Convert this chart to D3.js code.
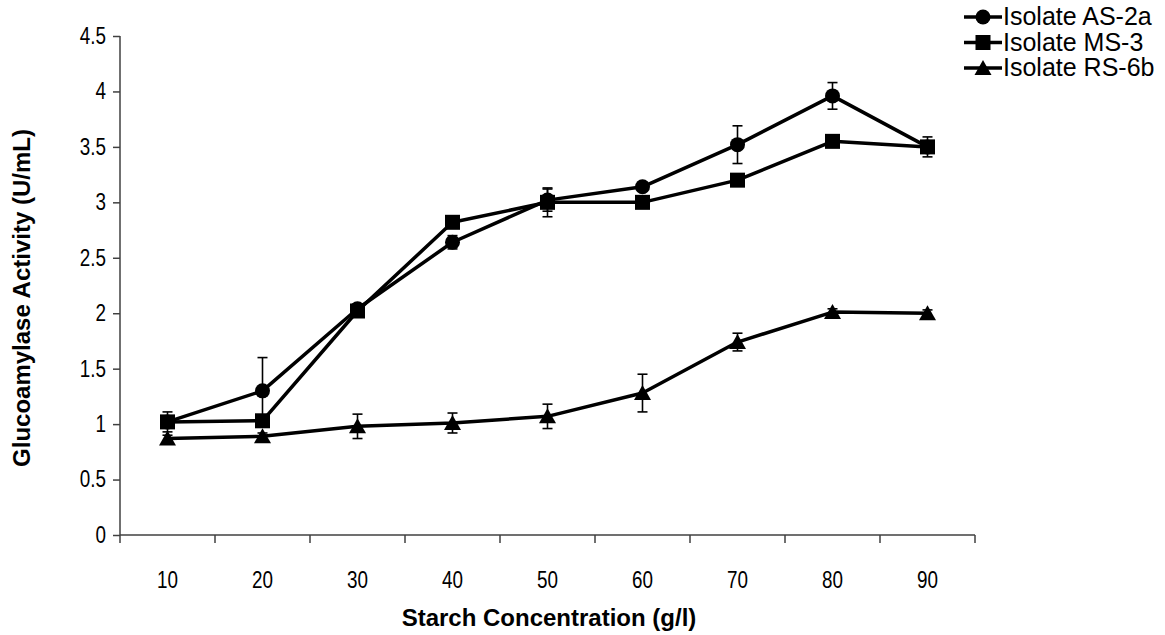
<!DOCTYPE html>
<html>
<head>
<meta charset="utf-8">
<script src="https://cdn.jsdelivr.net/npm/d3@7"></script>
<style>
  body { margin: 0; background: #fff; }
  svg { display: block; font-family: "Liberation Sans", Arial, sans-serif; }
</style>
</head>
<body>
<div id="chart"></div>
<script>
// Starch concentration categories (g/l)
const categories = [10, 20, 30, 40, 50, 60, 70, 80, 90];
const yTicks = [0, 0.5, 1, 1.5, 2, 2.5, 3, 3.5, 4, 4.5];

// Glucoamylase activity (U/mL) and error bars
const as2aValues = [1.02, 1.30, 2.04, 2.64, 3.02, 3.14, 3.52, 3.96, 3.50];
const as2aErrors = [0.05, 0.30, 0.04, 0.06, 0.10, 0.04, 0.17, 0.12, 0.05];
const ms3Values  = [1.02, 1.03, 2.02, 2.82, 3.00, 3.00, 3.20, 3.55, 3.50];
const ms3Errors  = [0.09, 0.05, 0.04, 0.05, 0.13, 0.04, 0.04, 0.04, 0.09];
const rs6bValues = [0.87, 0.89, 0.98, 1.01, 1.07, 1.28, 1.74, 2.01, 2.00];
const rs6bErrors = [0.03, 0.03, 0.11, 0.09, 0.11, 0.17, 0.08, 0.03, 0.03];

const seriesNames = ['Isolate AS-2a', 'Isolate MS-3', 'Isolate RS-6b'];
const seriesShapes = ['circle', 'square', 'triangle'];

const series = [
  { name: seriesNames[0], shape: seriesShapes[0], values: as2aValues, errors: as2aErrors },
  { name: seriesNames[1], shape: seriesShapes[1], values: ms3Values, errors: ms3Errors },
  { name: seriesNames[2], shape: seriesShapes[2], values: rs6bValues, errors: rs6bErrors }
];

const width = 1165, height = 635;
const margin = { top: 36, right: 190, bottom: 100, left: 120 };
const innerWidth = width - margin.left - margin.right;
const innerHeight = height - margin.top - margin.bottom;
const axisColor = '#404040';
const fontFamily = '"Liberation Sans", Arial, sans-serif';
const squeeze = 0.82; // tick labels in the original look narrow

const svg = d3.select('#chart')
  .append('svg')
  .attr('width', width)
  .attr('height', height);

const g = svg.append('g')
  .attr('transform', `translate(${margin.left},${margin.top})`);

// Scales
const xScale = d3.scaleBand()
  .domain(categories)
  .range([0, innerWidth]);

const yScale = d3.scaleLinear()
  .domain([0, 4.5])
  .range([innerHeight, 0]);

const xc = d => xScale(d) + xScale.bandwidth() / 2;

// Y axis
const yAxis = g.append('g')
  .call(d3.axisLeft(yScale).tickValues(yTicks).tickSize(7).tickPadding(7)
    .tickFormat(d => d3.format('')(d)));
yAxis.attr('font-family', fontFamily).attr('font-size', 23);
yAxis.select('.domain').attr('stroke', axisColor).attr('stroke-width', 1.5)
  .attr('d', `M0,0V${innerHeight}`);
yAxis.selectAll('.tick line').attr('stroke', axisColor).attr('stroke-width', 1.5);
yAxis.selectAll('.tick text')
  .attr('fill', '#000')
  .attr('x', -14 / squeeze)
  .attr('transform', `scale(${squeeze},1)`);

// X axis (ticks at band boundaries)
const xAxis = g.append('g')
  .attr('transform', `translate(0,${innerHeight})`);
xAxis.append('path')
  .attr('d', `M0,0H${innerWidth}`)
  .attr('stroke', axisColor)
  .attr('stroke-width', 1.5);
const boundaries = categories.map(c => xScale(c)).concat([innerWidth]);
xAxis.selectAll('.xtick')
  .data(boundaries)
  .enter().append('line')
  .attr('x1', d => d).attr('x2', d => d)
  .attr('y1', 0).attr('y2', 8)
  .attr('stroke', axisColor)
  .attr('stroke-width', 1.5);
xAxis.selectAll('.xlabel')
  .data(categories)
  .enter().append('text')
  .attr('transform', d => `translate(${xc(d)},53) scale(${squeeze},1)`)
  .attr('text-anchor', 'middle')
  .style('font-size', '23px')
  .text(d => d);

// Axis titles
svg.append('text')
  .attr('x', 549)
  .attr('y', 626)
  .attr('text-anchor', 'middle')
  .style('font-size', '24px')
  .style('font-weight', 'bold')
  .text('Starch Concentration (g/l)');

svg.append('text')
  .attr('transform', 'translate(30,298) rotate(-90)')
  .attr('text-anchor', 'middle')
  .style('font-size', '24px')
  .style('font-weight', 'bold')
  .text('Glucoamylase Activity (U/mL)');

// Marker drawing
function drawMarker(sel, shape) {
  if (shape === 'circle') {
    sel.append('circle').attr('r', 7.5).attr('fill', '#000');
  } else if (shape === 'square') {
    sel.append('rect').attr('x', -7.5).attr('y', -7.5)
      .attr('width', 15).attr('height', 15).attr('fill', '#000');
  } else {
    sel.append('path').attr('d', 'M0,-8L8.5,7L-8.5,7Z').attr('fill', '#000');
  }
}

const line = d3.line()
  .x(d => xc(d.cat))
  .y(d => yScale(d.value));

series.forEach(s => {
  const pts = categories.map((c, i) => ({ cat: c, value: s.values[i], err: s.errors[i] }));
  const sg = g.append('g');

  // Error bars
  const eb = sg.selectAll('.err')
    .data(pts)
    .enter().append('g')
    .attr('stroke', '#000')
    .attr('stroke-width', 1.6);
  eb.append('line')
    .attr('x1', d => xc(d.cat)).attr('x2', d => xc(d.cat))
    .attr('y1', d => yScale(d.value - d.err))
    .attr('y2', d => yScale(d.value + d.err));
  eb.append('line')
    .attr('x1', d => xc(d.cat) - 5).attr('x2', d => xc(d.cat) + 5)
    .attr('y1', d => yScale(d.value + d.err)).attr('y2', d => yScale(d.value + d.err));
  eb.append('line')
    .attr('x1', d => xc(d.cat) - 5).attr('x2', d => xc(d.cat) + 5)
    .attr('y1', d => yScale(d.value - d.err)).attr('y2', d => yScale(d.value - d.err));

  sg.append('path')
    .datum(pts)
    .attr('fill', 'none')
    .attr('stroke', '#000')
    .attr('stroke-width', 3.5)
    .attr('stroke-linejoin', 'round')
    .attr('d', line);

  sg.selectAll('.mk')
    .data(pts)
    .enter().append('g')
    .attr('transform', d => `translate(${xc(d.cat)},${yScale(d.value)})`)
    .each(function () { drawMarker(d3.select(this), s.shape); });
});

// Legend
const legend = svg.append('g')
  .attr('transform', 'translate(964,17)');
series.forEach((s, i) => {
  const row = legend.append('g').attr('transform', `translate(0,${i * 25.5})`);
  row.append('line')
    .attr('x1', 0).attr('x2', 38)
    .attr('stroke', '#000').attr('stroke-width', 3.5);
  const m = row.append('g').attr('transform', 'translate(19,0)');
  drawMarker(m, s.shape);
  row.append('text')
    .attr('x', 39)
    .attr('y', 8)
    .style('font-size', '25px')
    .text(s.name);
});
</script>
</body>
</html>
